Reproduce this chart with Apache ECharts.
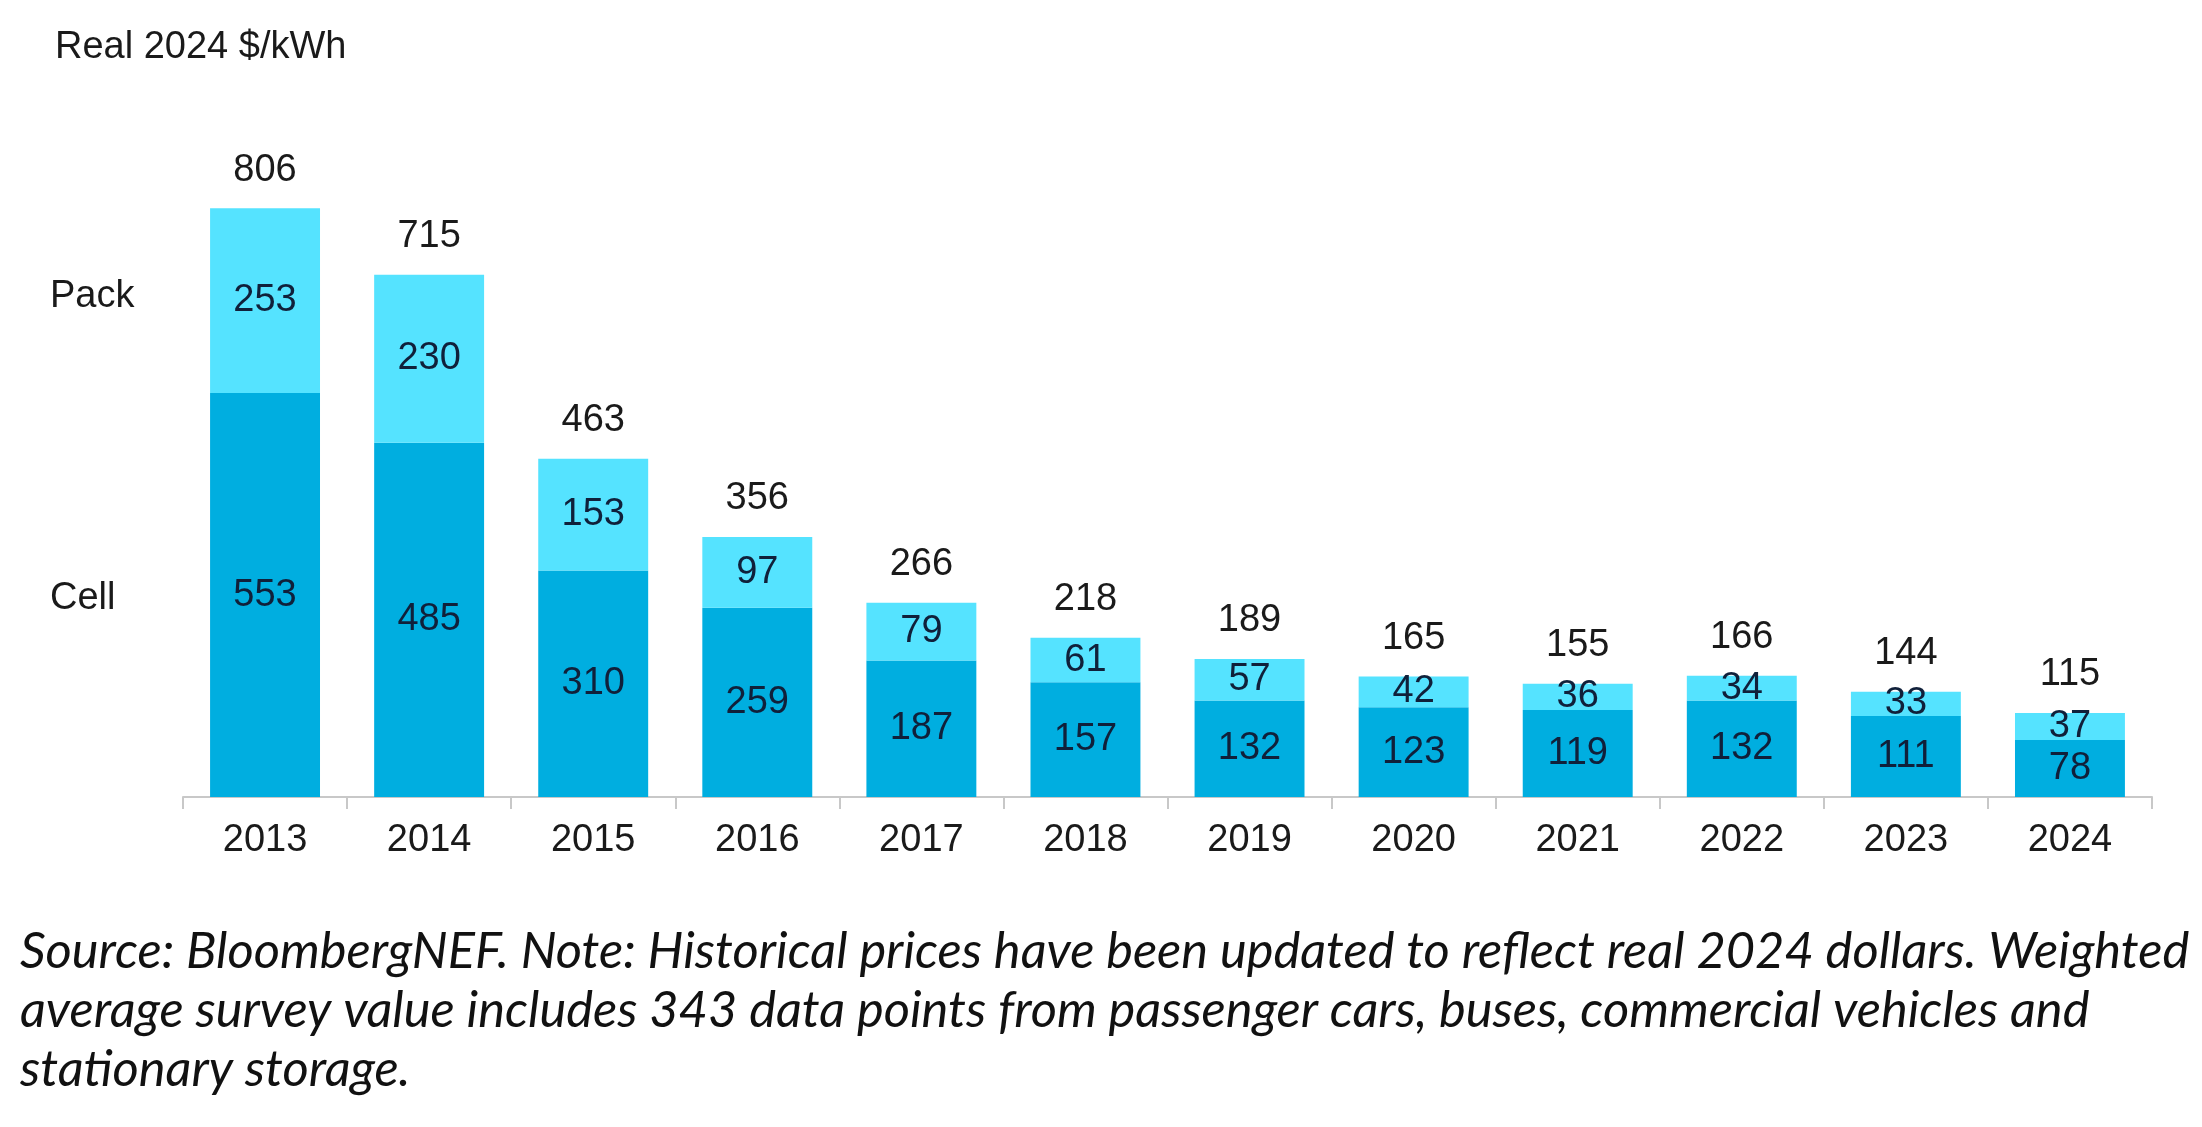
<!DOCTYPE html>
<html>
<head>
<meta charset="utf-8">
<script src="https://cdn.jsdelivr.net/npm/echarts@6/dist/echarts.min.js"></script>
<style>
html,body{margin:0;padding:0;background:#fff;}
#c{width:2202px;height:1127px;}
</style>
</head>
<body>
<div id="c"></div>
<script>
const years = ['2013','2014','2015','2016','2017','2018','2019','2020','2021','2022','2023','2024'];
const cellValues = [553,485,310,259,187,157,132,123,119,132,111,78];
const packValues = [253,230,153,97,79,61,57,42,36,34,33,37];
const totalValues = [806,715,463,356,266,218,189,165,155,166,144,115];
const unitLabel = 'Real 2024 $/kWh';
const seriesNames = ['Cell','Pack'];
const noteLines = [
  'Source: BloombergNEF. Note: Historical prices have been updated to reflect real 2024 dollars. Weighted',
  'average survey value includes 343 data points from passenger cars, buses, commercial vehicles and',
  'stationary storage.'
];

const FONT = "'Liberation Sans', Arial, sans-serif";
const chart = echarts.init(document.getElementById('c'));
chart.setOption({
  backgroundColor: '#ffffff',
  animation: false,
  title: {
    text: unitLabel, left: 50, top: 24,
    textStyle: {fontFamily: FONT, fontSize: 38, fontWeight: 'normal', color: '#1a1a1a'}
  },
  grid: {left: 183, right: 50, top: 66.5, bottom: 330, containLabel: false},
  xAxis: {
    type: 'category', data: years,
    axisLine: {lineStyle: {color: '#c8c8c8', width: 2}},
    axisTick: {show: true, length: 12, lineStyle: {color: '#c8c8c8', width: 2}},
    axisLabel: {fontFamily: FONT, fontSize: 38, color: '#1a1a1a', margin: 25}
  },
  yAxis: {
    type: 'value', min: 0, max: 1000, show: false,
    splitLine: {show: false}
  },
  graphic: [
    {type: 'text', left: 50, top: 278, style: {text: seriesNames[1], fontFamily: FONT, fontSize: 38, fill: '#1a1a1a'}},
    {type: 'text', left: 50, top: 580, style: {text: seriesNames[0], fontFamily: FONT, fontSize: 38, fill: '#1a1a1a'}},
    {type: 'text', left: 20, top: 922, style: {text: noteLines.join('\n'), fontFamily: "Lato, 'Open Sans', sans-serif", fontStyle: 'italic', fontSize: 50.6, lineHeight: 59, fill: '#111111'}}
  ],
  series: [
    {
      name: seriesNames[0], type: 'bar', stack: 'p', data: cellValues,
      barCategoryGap: '33%',
      itemStyle: {color: '#00AEE0'},
      label: {show: true, position: 'inside', fontFamily: FONT, fontSize: 38, color: '#10203a'}
    },
    {
      name: seriesNames[1], type: 'bar', stack: 'p', data: packValues,
      itemStyle: {color: '#55E3FF'},
      label: {show: true, position: 'inside', fontFamily: FONT, fontSize: 38, color: '#10203a'}
    },
    {
      name: 'Total', type: 'scatter', data: totalValues,
      symbol: 'circle', symbolSize: 2, itemStyle: {color: 'rgba(255,255,255,0)', opacity: 1}, silent: true, z: 5,
      labelLayout: {hideOverlap: false},
      label: {show: true, position: 'top', distance: 18, fontFamily: FONT, fontSize: 38, color: '#1a1a1a'}
    }
  ]
});
</script>
</body>
</html>
